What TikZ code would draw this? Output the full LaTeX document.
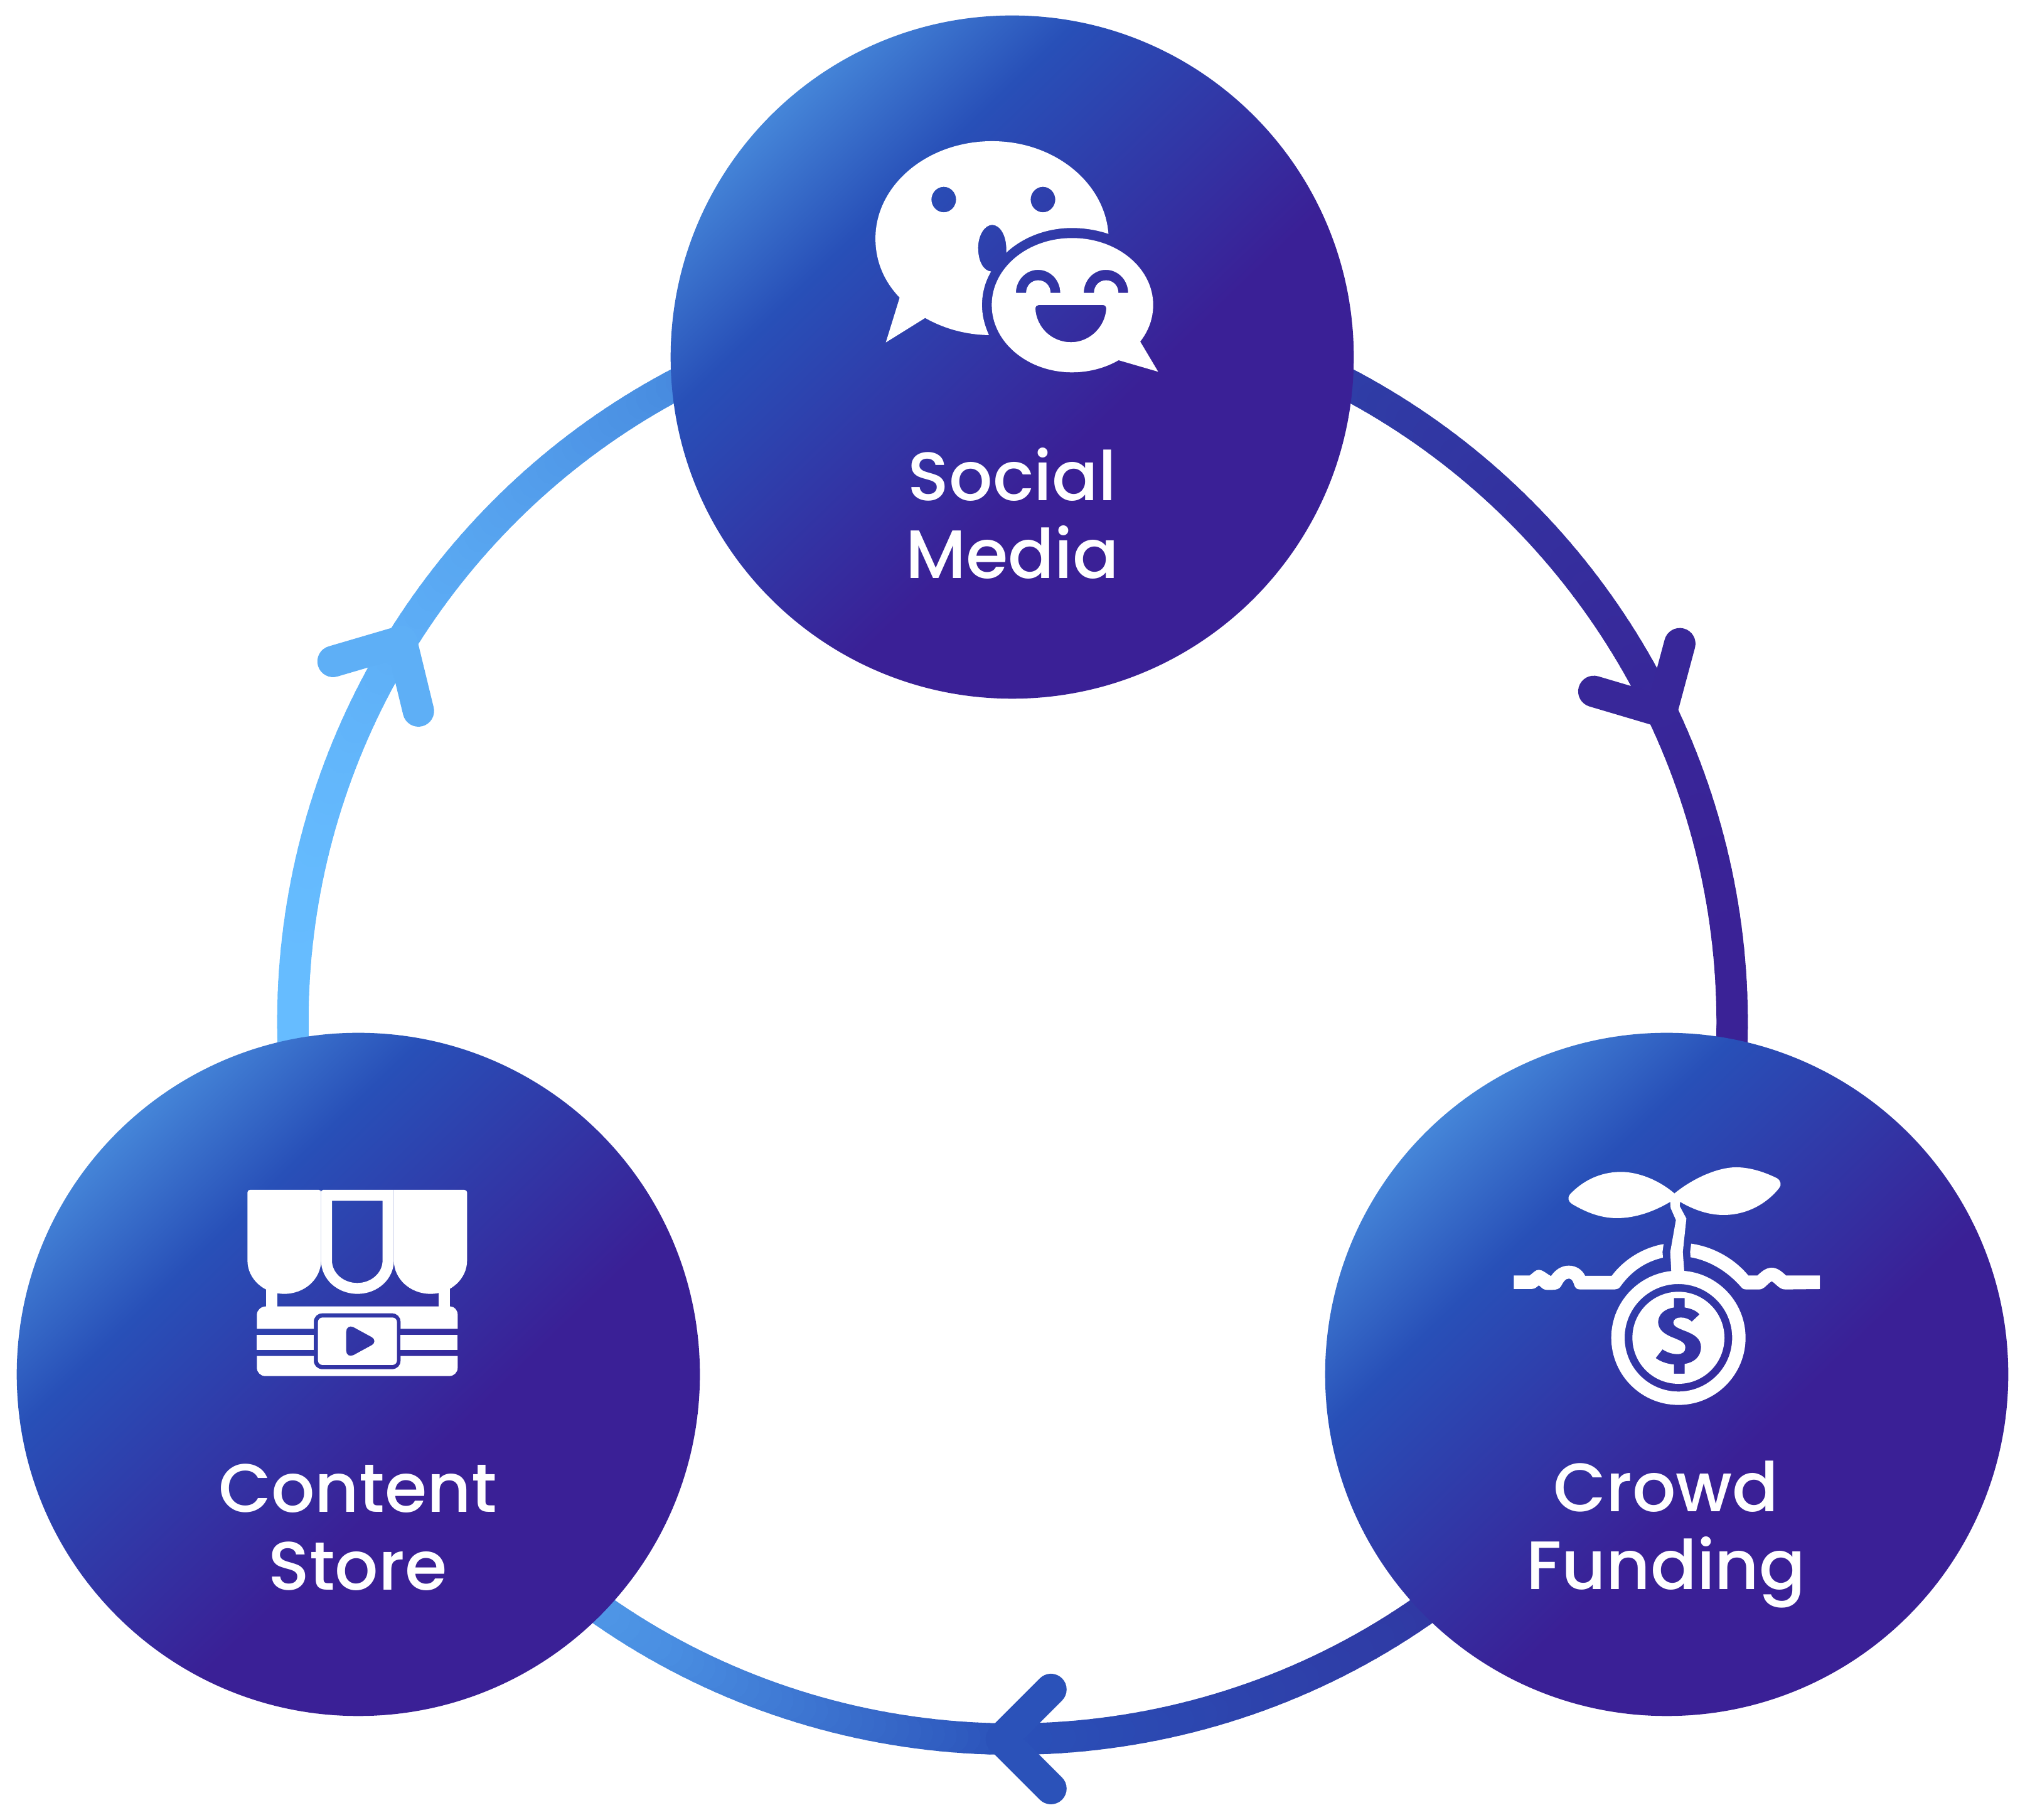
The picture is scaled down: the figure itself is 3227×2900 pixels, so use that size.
\documentclass[tikz,border=0pt]{standalone}
\usepackage{fontspec}
\setmainfont{Poppins}[UprightFont=* Medium,BoldFont=* Bold]
\usetikzlibrary{backgrounds,calc}
\definecolor{ringstop0}{HTML}{66BCFF}
\definecolor{ringstop1}{HTML}{4A8FE2}
\definecolor{ringstop2}{HTML}{2A50B8}
\definecolor{ringstop3}{HTML}{2F3CA6}
\definecolor{ringstop4}{HTML}{3A2296}
\definecolor{hublight}{HTML}{4585D8}
\definecolor{hubblue}{HTML}{2850B8}
\definecolor{hubpurple}{HTML}{3A2096}
\pgfdeclarehorizontalshading{hubgrad}{100bp}{color(0bp)=(hublight); color(25bp)=(hublight); color(35.5bp)=(hubblue); color(58bp)=(hubpurple); color(100bp)=(hubpurple)}
\tikzset{
  hub/.style={circle, minimum size=10.88cm, inner sep=0pt, shade, shading=hubgrad, shading angle=-46},
  hublabel/.style={text=white, align=center, font=\fontsize{31}{35.2}\selectfont},
  ringline/.style={line width=0.5cm, line cap=round, line join=round},
  icon/.style={fill=white, even odd rule}
}
% colour of the ring at the x position of a coordinate
\newcommand{\ringinkat}[1]{%
  \pgfpointanchor{#1}{center}\pgfgetlastxy{\inkx}{\inky}%
  \pgfmathsetmacro{\inkpos}{max(0,min(3.999,(\inkx/0.28453-470)/572.5))}%
  \pgfmathtruncatemacro{\inkband}{int(\inkpos)}%
  \pgfmathtruncatemacro{\inkstop}{\inkband+1}%
  \pgfmathsetmacro{\inkmix}{100*(\inkpos-\inkband)}%
  \colorlet{ringink}{ringstop\inkstop!\inkmix!ringstop\inkband}}
% from, to, bend, looseness, tip name, tip position
\newcommand{\ringlink}[6]{%
  \foreach \seg [evaluate=\seg as \segat using \seg/72, evaluate=\seg as \segnext using (\seg+1)/72] in {-4,...,75}{
    \path (#1) to[bend left=#3, looseness=#4] coordinate[pos=\segat] (sega) coordinate[pos=\segnext] (segb) (#2);
    \ringinkat{sega}
    \draw[ringline, ringink] (sega) -- (segb);
  }
  \path (#1) to[bend left=#3, looseness=#4] coordinate[pos=#6] (#5) (#2);
}
% tip name, the two barbs
\newcommand{\ringhead}[3]{%
  \ringinkat{#1}
  \coordinate (#1a) at ($(#1)+(#2)$);
  \coordinate (#1b) at ($(#1)+(#3)$);
  \draw[ringline, ringink] (#1a) -- (#1) -- (#1b);
}
\begin{document}
\begin{tikzpicture}[x=0.01cm, y=0.01cm]
  \useasboundingbox (0,0) rectangle (3227,2900);
  \node[hub] (social) at (1613,2331) {};
  \node[hub] (crowd) at (2656,710) {};
  \node[hub] (store) at (571,710) {};
  \node[hublabel] (sociallabel) at (1613,2082) {Social\\Media};
  \node[hublabel] (crowdlabel) at (2655,455) {Crowd\\Funding};
  \node[hublabel] (storelabel) at (570,466) {Content\\Store};
  \begin{scope}[on background layer]
    \ringlink{social.-5.5}{crowd.79}{31.5}{0.92}{tipright}{0.575}
    \ringlink{crowd.224.1}{store.-44}{34.7}{0.935}{tipbottom}{0.513}
    \ringlink{store.101}{social.185.5}{31.5}{0.92}{tipleft}{0.527}
    \ringhead{tipright}{29,108}{-108,32}
    \ringhead{tipbottom}{79,79}{79,-79}
    \ringhead{tipleft}{-109,-32}{27,-111}
  \end{scope}
  % speech bubbles
  \begin{scope}[shift={(1340,2710)}, xscale=0.3444, yscale=-1/3]
    \fill[icon] (272,853) -- (208,1067) -- (390,950) .. controls (475,1000) and (575,1030) .. (685,1032)
      .. controls (665,985) and (653,940) .. (653,888) .. controls (653,830) and (668,775) .. (695,728)
      .. controls (660,725) and (635,680) .. (635,615) .. controls (635,555) and (665,505) .. (700,505)
      .. controls (738,505) and (770,560) .. (765,638) .. controls (840,565) and (950,520) .. (1068,520)
      .. controls (1130,520) and (1185,530) .. (1238,548) .. controls (1220,300) and (985,105) .. (700,105)
      .. controls (400,105) and (160,315) .. (160,570) .. controls (160,680) and (200,775) .. (272,853) -- cycle
      (476,384) ellipse[x radius=57, y radius=61]
      (935,384) ellipse[x radius=57, y radius=61];
    \fill[icon] (1385,1063) .. controls (1425,1010) and (1445,950) .. (1445,888)
      .. controls (1445,711) and (1278,568) .. (1070,568) .. controls (864,568) and (698,711) .. (698,888)
      .. controls (698,1065) and (864,1210) .. (1070,1210) .. controls (1150,1210) and (1225,1188) .. (1285,1152)
      -- (1468,1207) -- cycle
      (810,830) .. controls (810,770) and (855,720) .. (912,720) .. controls (970,720) and (1015,770) .. (1015,830)
      -- (970,830) .. controls (970,795) and (945,770) .. (913,770) .. controls (882,770) and (857,795) .. (857,830) -- cycle
      (1124,830) .. controls (1124,770) and (1169,720) .. (1226,720) .. controls (1284,720) and (1329,770) .. (1329,830)
      -- (1284,830) .. controls (1284,795) and (1259,770) .. (1227,770) .. controls (1196,770) and (1171,795) .. (1171,830) -- cycle
      (915,888) -- (1212,888) .. controls (1222,888) and (1228,896) .. (1228,906)
      .. controls (1222,995) and (1150,1066) .. (1065,1066) .. controls (975,1066) and (905,995) .. (900,906)
      .. controls (900,896) and (906,888) .. (915,888) -- cycle;
  \end{scope}
  % market stall
  \begin{scope}[shift={(360,1040)}, xscale=1/3, yscale=-1/3]
    \fill[icon] (103,445) -- (103,120) .. controls (103,113) and (108,108) .. (115,108) -- (445,108)
      .. controls (450,108) and (455,113) .. (455,118) -- (455,445) .. controls (455,535) and (375,605) .. (279,605)
      .. controls (183,605) and (103,535) .. (103,445) -- cycle;
    \fill[icon] (455,118) .. controls (455,113) and (460,108) .. (465,108) -- (803,108) -- (803,445)
      .. controls (803,535) and (725,605) .. (629,605) .. controls (533,605) and (455,535) .. (455,445) -- cycle
      (507,160) -- (749,160) -- (749,445) .. controls (749,505) and (695,553) .. (628,553)
      .. controls (561,553) and (507,505) .. (507,445) -- cycle;
    \fill[icon] (803,108) -- (1140,108) .. controls (1147,108) and (1153,113) .. (1153,120) -- (1153,445)
      .. controls (1153,535) and (1073,605) .. (978,605) .. controls (883,605) and (803,535) .. (803,445) -- cycle;
    \fill[icon] (192,570) rectangle (246,670);
    \fill[icon] (1018,570) rectangle (1072,670);
    \fill[icon] (148,772) -- (148,705) .. controls (148,683) and (168,665) .. (192,665) -- (1072,665)
      .. controls (1092,665) and (1108,683) .. (1108,705) -- (1108,772) -- (835,772) -- (835,738)
      .. controls (835,715) and (818,698) .. (795,698) -- (460,698) .. controls (438,698) and (420,715) .. (420,738)
      -- (420,772) -- cycle;
    \fill[icon] (148,800) rectangle (420,872);
    \fill[icon] (835,800) rectangle (1108,872);
    \fill[icon] (148,902) -- (420,902) -- (420,925) .. controls (420,948) and (438,965) .. (460,965) -- (795,965)
      .. controls (818,965) and (835,948) .. (835,925) -- (835,902) -- (1108,902) -- (1108,958)
      .. controls (1108,980) and (1090,998) .. (1068,998) -- (188,998) .. controls (166,998) and (148,980) .. (148,958) -- cycle;
    \fill[icon] (462,718) -- (796,718) .. controls (808,718) and (818,728) .. (818,740) -- (818,923)
      .. controls (818,935) and (808,945) .. (796,945) -- (462,945) .. controls (450,945) and (440,935) .. (440,923)
      -- (440,740) .. controls (440,728) and (450,718) .. (462,718) -- cycle
      (575,785) .. controls (575,765) and (592,755) .. (610,764) -- (698,812)
      .. controls (714,820) and (714,842) .. (698,850) -- (610,898) .. controls (592,906) and (575,898) .. (575,878) -- cycle;
  \end{scope}
  % seedling and coin
  \begin{scope}[shift={(2390,1060)}, xscale=1/3, yscale=-1/3]
    \fill[icon] (835,185) .. controls (760,120) and (660,82) .. (580,82) .. controls (480,82) and (395,125) .. (335,190)
      .. controls (322,205) and (328,225) .. (345,235) .. controls (420,280) and (490,303) .. (560,303)
      .. controls (650,303) and (740,270) .. (815,225) -- (817,255) -- (842,312) -- (815,465) -- (820,560)
      -- (882,560) -- (875,465) -- (892,305) -- (860,245) -- (862,225) .. controls (930,265) and (1000,288) .. (1070,288)
      .. controls (1180,288) and (1275,235) .. (1335,160) .. controls (1348,145) and (1345,125) .. (1325,112)
      .. controls (1270,85) and (1200,60) .. (1130,60) .. controls (1040,60) and (920,115) .. (835,185) -- cycle;
    \fill[icon] (67,577) -- (143,577) .. controls (160,565) and (170,550) .. (187,550) .. controls (205,550) and (225,570) .. (245,580)
      .. controls (265,550) and (295,530) .. (330,530) .. controls (365,530) and (395,550) .. (408,579) -- (535,579)
      .. controls (590,505) and (680,445) .. (783,427) -- (778,465) -- (780,492) .. controls (700,510) and (630,555) .. (578,628)
      .. controls (570,640) and (560,644) .. (550,644) -- (385,644) .. controls (365,644) and (360,635) .. (355,620)
      .. controls (350,600) and (340,592) .. (330,592) .. controls (312,592) and (303,610) .. (293,628)
      .. controls (285,642) and (270,646) .. (250,646) -- (225,646) .. controls (205,646) and (198,632) .. (187,624)
      .. controls (178,630) and (170,642) .. (150,642) -- (67,642) -- cycle;
    \fill[icon] (915,425) -- (910,465) -- (912,490) .. controls (1000,505) and (1085,555) .. (1150,628)
      .. controls (1160,640) and (1165,644) .. (1180,644) -- (1240,644) .. controls (1265,644) and (1280,615) .. (1300,605)
      .. controls (1320,615) and (1335,644) .. (1365,644) -- (1530,642) -- (1530,577) -- (1368,577)
      .. controls (1345,555) and (1325,540) .. (1300,540) .. controls (1275,540) and (1255,555) .. (1232,577)
      -- (1188,577) .. controls (1120,495) and (1020,440) .. (915,425) -- cycle;
    \fill[icon] (854,875) circle[radius=321] (854,875) circle[radius=257];
    % disc with the dollar sign cut out
    \fill[icon] (854,875) circle[radius=220]
      (833,685) -- (884,685) -- (884,730) .. controls (915,735) and (940,745) .. (955,763) -- (918,798)
      .. controls (905,785) and (885,778) .. (865,778) .. controls (845,778) and (830,787) .. (830,803)
      .. controls (830,820) and (850,827) .. (880,840) .. controls (930,858) and (962,878) .. (962,920)
      .. controls (962,965) and (930,993) .. (884,1000) -- (884,1047) -- (833,1047) -- (833,1003)
      .. controls (800,1000) and (770,990) .. (745,972) -- (778,930) .. controls (800,945) and (825,953) .. (850,953)
      .. controls (872,953) and (887,943) .. (887,922) .. controls (887,900) and (868,890) .. (830,875)
      .. controls (785,858) and (757,835) .. (757,800) .. controls (757,762) and (790,735) .. (833,730) -- cycle;
  \end{scope}
\end{tikzpicture}
\end{document}
